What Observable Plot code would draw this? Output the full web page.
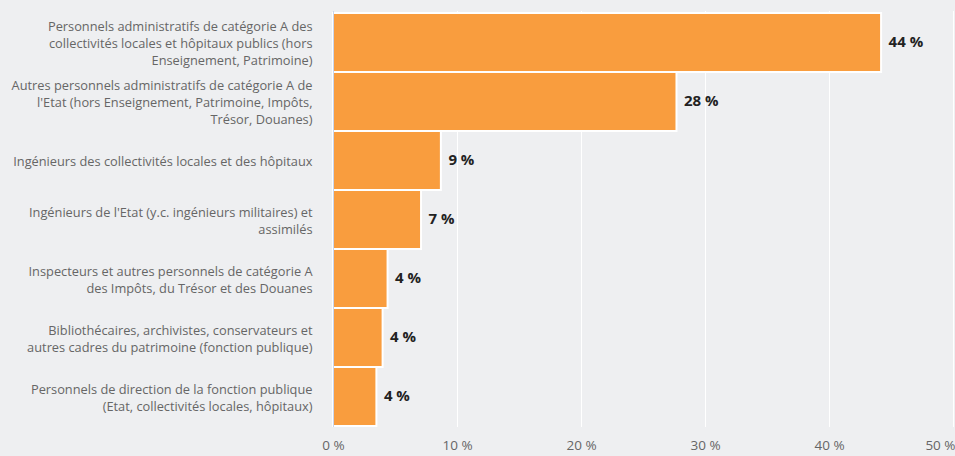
<!DOCTYPE html>
<html>
<head>
<meta charset="utf-8">
<script src="https://cdn.jsdelivr.net/npm/d3@7"></script>
<script src="https://cdn.jsdelivr.net/npm/@observablehq/plot@0.6"></script>
<style>
  html, body { margin: 0; padding: 0; background: #eeeff1; }
  #chart svg { display: block; }
</style>
</head>
<body>
<div id="chart"></div>
<script>
const categories = [
  "Personnels administratifs de catégorie A des\ncollectivités locales et hôpitaux publics (hors\nEnseignement, Patrimoine)",
  "Autres personnels administratifs de catégorie A de\nl'Etat (hors Enseignement, Patrimoine, Impôts,\nTrésor, Douanes)",
  "Ingénieurs des collectivités locales et des hôpitaux",
  "Ingénieurs de l'Etat (y.c. ingénieurs militaires) et\nassimilés",
  "Inspecteurs et autres personnels de catégorie A\ndes Impôts, du Trésor et des Douanes",
  "Bibliothécaires, archivistes, conservateurs et\nautres cadres du patrimoine (fonction publique)",
  "Personnels de direction de la fonction publique\n(Etat, collectivités locales, hôpitaux)"
];
const values = [44.2, 27.7, 8.7, 7.1, 4.4, 4.0, 3.5];
const valueLabels = ["44 %", "28 %", "9 %", "7 %", "4 %", "4 %", "4 %"];
const xTicks = [0, 10, 20, 30, 40, 50];

const data = categories.map((c, i) => ({category: c, value: values[i], label: valueLabels[i]}));

const chart = Plot.plot({
  width: 955,
  height: 456,
  marginLeft: 333,
  marginRight: 2,
  marginTop: 11,
  marginBottom: 29,
  style: {background: "#eeeff1", fontFamily: "'Open Sans', sans-serif"},
  x: {domain: [0, 50]},
  y: {domain: categories, padding: 0},
  marks: [
    Plot.gridX(xTicks, {stroke: "#ffffff", strokeOpacity: 1, strokeWidth: 1}),
    Plot.barX(data, {x: "value", y: "category", fill: "#f99d3e", stroke: "#ffffff", strokeWidth: 2}),
    Plot.ruleX([0], {stroke: "#ccd6eb", strokeWidth: 1}),
    Plot.text(data, {x: "value", y: "category", text: "label", textAnchor: "start", dx: 7, dy: -1,
      fontWeight: "bold", fontSize: 15, fill: "#222222"}),
    Plot.axisY({tickSize: 0, tickPadding: 21, fontSize: 12.8, lineHeight: 1.33, fill: "#666666", label: null}),
    Plot.axisX(xTicks.slice(0, -1), {tickSize: 0, tickPadding: 13, tickFormat: d => d + " %",
      fontSize: 13.5, fill: "#666666", label: null}),
    Plot.axisX(xTicks.slice(-1), {tickSize: 0, tickPadding: 13, tickFormat: d => d + " %",
      fontSize: 13.5, fill: "#666666", label: null, textAnchor: "end", dx: 2})
  ]
});
document.getElementById("chart").appendChild(chart);
</script>
</body>
</html>
